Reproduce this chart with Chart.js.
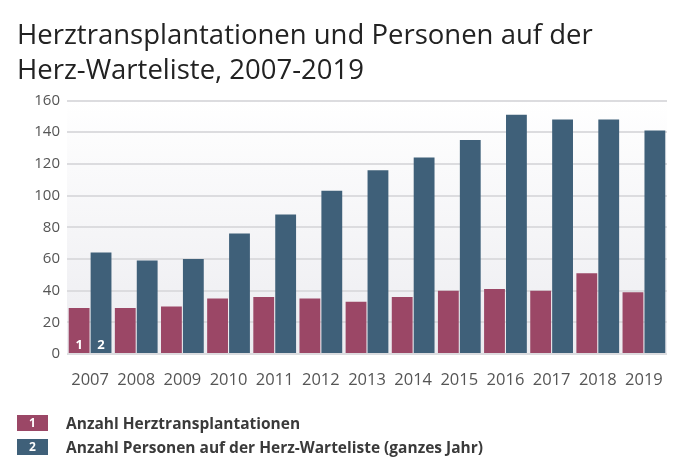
<!DOCTYPE html>
<html>
<head>
<meta charset="utf-8">
<script src="https://cdn.jsdelivr.net/npm/chart.js@4"></script>
<style>
  html, body { margin: 0; padding: 0; background: #fff; }
  #wrap { position: relative; width: 680px; height: 470px; }
  #legend { position: absolute; left: 17px; top: 414px; font-family: "Open Sans", sans-serif; }
  .row { display: flex; align-items: center; height: 18px; margin-bottom: 6px; }
  .key { width: 31px; height: 16px; color: #fff; font-size: 12px; font-weight: bold;
         text-align: center; line-height: 16px; }
  .txt { margin-left: 18px; font-size: 15.5px; font-weight: bold; color: #3a3a3a; }
</style>
</head>
<body>
<div id="wrap">
  <canvas id="myChart" width="680" height="470"></canvas>
  <div id="legend"></div>
</div>
<script>
  'use strict';

  // Data
  const years = ['2007', '2008', '2009', '2010', '2011', '2012', '2013',
    '2014', '2015', '2016', '2017', '2018', '2019'];
  const transplants = [29, 29, 30, 35, 36, 35, 33, 36, 40, 41, 40, 51, 39];
  const waitlist = [64, 59, 60, 76, 88, 103, 116, 124, 135, 151, 148, 148, 141];
  const seriesNames = ['Anzahl Herztransplantationen',
    'Anzahl Personen auf der Herz-Warteliste (ganzes Jahr)'];
  const yTicks = [0, 20, 40, 60, 80, 100, 120, 140, 160];

  const red = '#9b4766';
  const blue = '#3f6079';
  const font = '"Open Sans", sans-serif';

  // soft grey fade behind the bars
  const plotBg = {
    id: 'plotBg',
    beforeDraw: function (chart) {
      const ctx = chart.ctx, a = chart.chartArea;
      const g = ctx.createLinearGradient(0, a.top, 0, a.bottom);
      g.addColorStop(0, '#ffffff');
      g.addColorStop(1, '#ececf0');
      ctx.save();
      ctx.fillStyle = g;
      ctx.fillRect(a.left, a.top, a.right - a.left, a.bottom - a.top);
      ctx.restore();
    }
  };

  // little series numbers inside the first pair of bars
  const barNumbers = {
    id: 'barNumbers',
    afterDatasetsDraw: function (chart) {
      const ctx = chart.ctx;
      ctx.save();
      ctx.fillStyle = '#ffffff';
      ctx.font = 'bold 13px ' + font;
      ctx.textAlign = 'center';
      ctx.textBaseline = 'middle';
      chart.data.datasets.forEach(function (ds, i) {
        const bar = chart.getDatasetMeta(i).data[0];
        ctx.fillText(String(i + 1), bar.x, bar.base - 8);
      });
      ctx.restore();
    }
  };

  const data = {
    labels: years,
    datasets: [{
      label: seriesNames[0],
      backgroundColor: red,
      data: transplants,
      categoryPercentage: 0.95,
      barPercentage: 0.95
    }, {
      label: seriesNames[1],
      backgroundColor: blue,
      data: waitlist,
      categoryPercentage: 0.95,
      barPercentage: 0.95
    }]
  };

  const config = {
    type: 'bar',
    data: data,
    plugins: [plotBg, barNumbers],
    options: {
      responsive: false,
      animation: false,
      layout: { padding: { left: 17, right: 13, top: 0, bottom: 80 } },
      plugins: {
        legend: { display: false },
        tooltip: { enabled: false },
        title: {
          display: true,
          align: 'start',
          text: ['Herztransplantationen und Personen auf der', 'Herz-Warteliste, 2007-2019'],
          color: '#222222',
          font: { family: font, size: 27.5, weight: 'normal', lineHeight: 1.3 },
          padding: { top: 18, bottom: 11 }
        }
      },
      scales: {
        x: {
          grid: { display: false },
          border: { display: false },
          ticks: { color: '#555555', font: { family: font, size: 16.5 }, padding: 8 },
          afterFit: function (scale) { scale.height = 36; }
        },
        y: {
          min: 0,
          max: 160,
          afterBuildTicks: function (scale) {
            scale.ticks = yTicks.map(function (v) { return { value: v }; });
          },
          grid: { color: '#dcdcdf', lineWidth: 2, drawTicks: false },
          border: { display: false },
          ticks: { color: '#555555', font: { family: font, size: 15 }, padding: 7 },
          afterFit: function (scale) { scale.width = 50; }
        }
      }
    }
  };

  new Chart(document.getElementById('myChart'), config);

  // legend with numbered keys
  const legend = document.getElementById('legend');
  [red, blue].forEach(function (c, i) {
    const row = document.createElement('div');
    row.className = 'row';
    const key = document.createElement('span');
    key.className = 'key';
    key.style.background = c;
    key.textContent = String(i + 1);
    const txt = document.createElement('span');
    txt.className = 'txt';
    txt.textContent = seriesNames[i];
    row.appendChild(key);
    row.appendChild(txt);
    legend.appendChild(row);
  });
</script>
</body>
</html>
